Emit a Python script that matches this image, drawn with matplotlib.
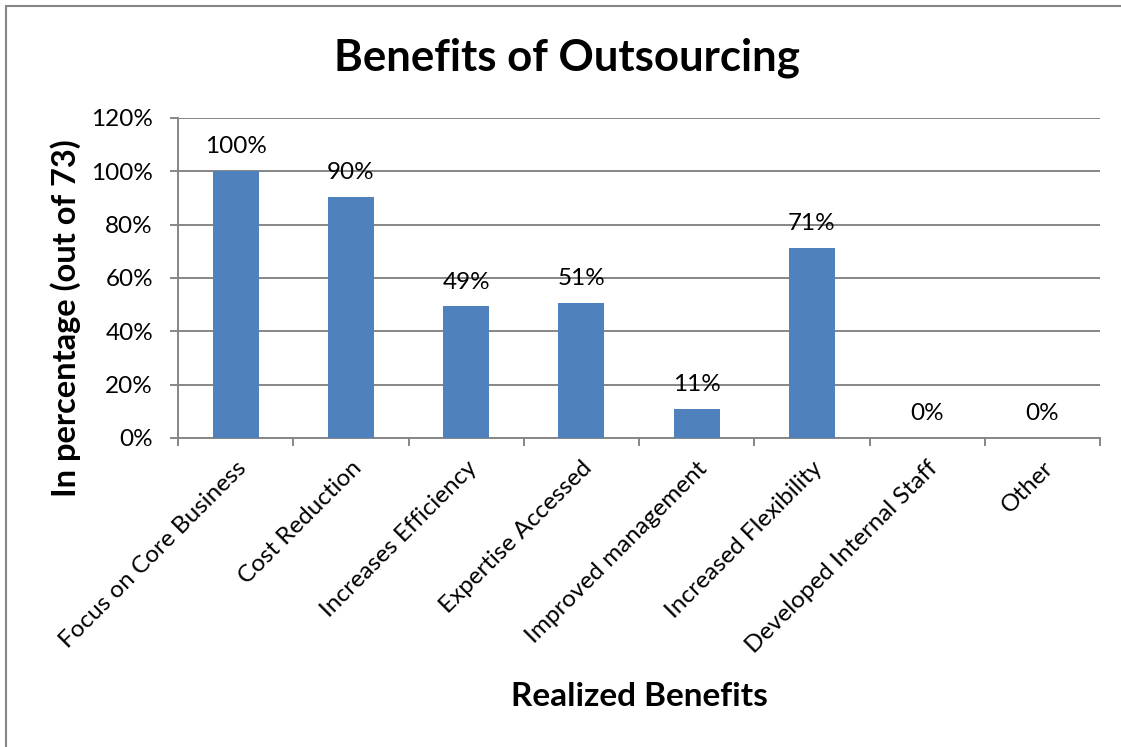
import matplotlib.pyplot as plt
from matplotlib.patches import Rectangle
import numpy as np

plt.rcParams['font.family'] = ['Lato', 'DejaVu Sans']

# survey responses, out of 73 respondents
categories = ['Focus on Core Business', 'Cost Reduction', 'Increases Efficiency',
              'Expertise Accessed', 'Improved management', 'Increased Flexibility',
              'Developed Internal Staff', 'Other']
counts = [73, 66, 36, 37, 8, 52, 0, 0]
total = 73
y_ticks = [0, 20, 40, 60, 80, 100, 120]

pct = np.array(counts) / total * 100

fig = plt.figure(figsize=(11.21, 7.47), dpi=100)
ax = fig.add_axes([178 / 1121, 1 - 438 / 747, (1100 - 178) / 1121, 320 / 747])

x = np.arange(len(categories))
ax.bar(x, pct, width=0.4, color='#4F81BD', zorder=3)
for xi, p in zip(x, pct):
    ax.annotate(f'{p:.0f}%', (xi, p), xytext=(0, 10), textcoords='offset points',
                ha='center', va='bottom', fontsize=17.5)

ax.set_xlim(-0.5, len(categories) - 0.5)
ax.set_ylim(0, 120)
ax.set_yticks(y_ticks)
ax.set_yticklabels([f'{t}%' for t in y_ticks], fontsize=17.5)
ax.yaxis.grid(True, color='#868686', linewidth=1.4, zorder=0)

# category ticks sit on the boundaries, labels at the centres
ax.set_xticks(np.arange(len(categories) + 1) - 0.5)
ax.set_xticklabels([])
ax.set_xticks(x, minor=True)
ax.set_xticklabels(categories, minor=True, rotation=45, ha='right',
                   rotation_mode='anchor', fontsize=17.5)
ax.tick_params(axis='x', which='minor', length=0, pad=14)
ax.tick_params(axis='x', which='major', length=6, width=1.4, color='#868686')
ax.tick_params(axis='y', length=6, width=1.4, color='#868686', pad=12)

for s in ['top', 'right']:
    ax.spines[s].set_visible(False)
for s in ['left', 'bottom']:
    ax.spines[s].set_color('#868686')
    ax.spines[s].set_linewidth(1.4)

fig.text(567 / 1121, 1 - 58 / 747, 'Benefits of Outsourcing', ha='center', va='center',
         fontsize=31.5, fontweight='bold')
fig.text(66 / 1121, 1 - 318 / 747, 'In percentage (out of 73)', ha='center', va='center',
         rotation=90, fontsize=23.5, fontweight='bold')
fig.text(639 / 1121, 1 - 697 / 747, 'Realized Benefits', ha='center', va='center',
         fontsize=24, fontweight='bold')

# chart frame
fig.add_artist(Rectangle((6 / 1121, -0.05), 1.1, 1 - 6 / 747 + 0.05,
                         transform=fig.transFigure, fill=False,
                         edgecolor='#868686', linewidth=1.5))

fig.savefig('out.png', dpi=100)
